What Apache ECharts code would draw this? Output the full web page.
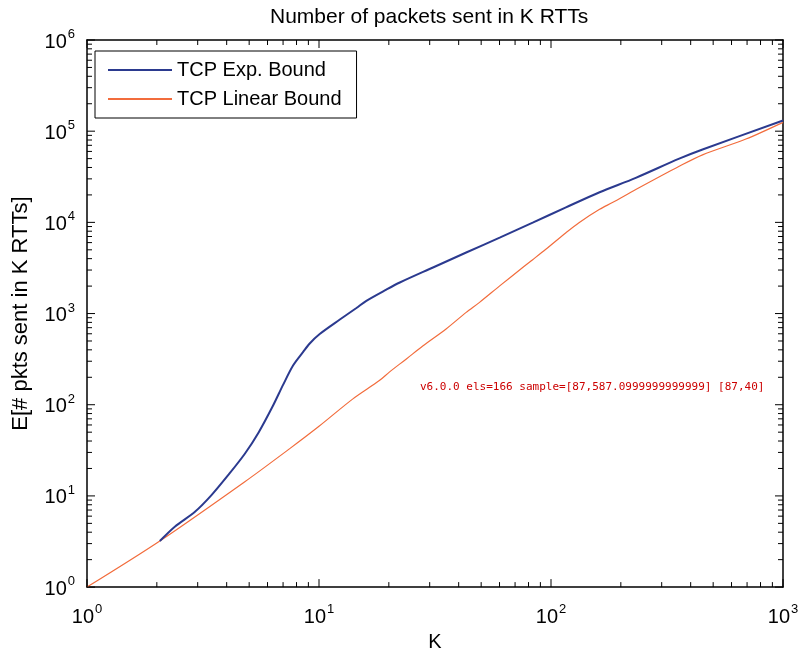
<!DOCTYPE html>
<html><head><meta charset="utf-8">
<script>window.__errs = []; window.onerror = function (m, s, l, c, e) { window.__errs.push('onerror: ' + m + ' @' + l + ':' + c); };</script>
<script src="https://cdn.jsdelivr.net/npm/echarts@6/dist/echarts.min.js"></script>
<style>html,body{margin:0;padding:0;background:#fff}#c{width:806px;height:657px}#d{position:absolute;left:420px;top:380px;width:360px;font:11px monospace;white-space:pre-wrap;color:#c00}</style>
</head><body><div id="c"></div><div id="d"></div>
<script>
const dbgOut = [];
const origErr = console.error, origWarn = console.warn;
console.error = function () { dbgOut.push('E: ' + Array.from(arguments).join(' ').slice(0, 200)); };
console.warn = function () { dbgOut.push('W: ' + Array.from(arguments).join(' ').slice(0, 200)); };
// Data
const expK = [2.06, 2.39, 2.92, 3.44, 4.06, 4.79, 5.5, 6.34, 7.0, 7.73, 8.53, 9.12, 10.07, 12.3, 14.5, 16.0, 19.5, 22.3, 31.0, 43.1, 60.1, 83.4, 116, 162, 232, 357, 450, 1000];
const expE = [3.2, 4.6, 6.7, 10.2, 16.9, 29, 50, 98, 165, 269, 377, 470, 597, 860, 1150, 1380, 1830, 2190, 3200, 4670, 6800, 9930, 14600, 21400, 30800, 50000, 63000, 131000];
const linK = [1, 2.06, 4.79, 7.48, 10, 14.0, 18.2, 20.1, 23.8, 28.0, 35.3, 43.1, 49.2, 60.1, 75.5, 83.4, 95, 116, 132, 162, 184, 232, 357, 450, 692, 1000];
const linE = [1, 3.2, 14.3, 33, 58, 116, 184, 228, 318, 440, 677, 1030, 1326, 2010, 3200, 3900, 5070, 7710, 9930, 13900, 16500, 22900, 41200, 55000, 82000, 125000];
const seriesNames = ['TCP Exp. Bound', 'TCP Linear Bound'];
const majorX = [1, 10, 100, 1000];
const minorX = [2,3,4,5,6,7,8,9,20,30,40,50,60,70,80,90,200,300,400,500,600,700,800,900];
const majorY = [1, 10, 100, 1000, 10000, 100000, 1000000];
const minorY = [2,3,4,5,6,7,8,9,20,30,40,50,60,70,80,90,200,300,400,500,600,700,800,900,
  2000,3000,4000,5000,6000,7000,8000,9000,20000,30000,40000,50000,60000,70000,80000,90000,
  200000,300000,400000,500000,600000,700000,800000,900000];

const FONT = 'Liberation Sans, Arial, sans-serif';
const X_MIN = 1, X_MAX = 1000, Y_MIN = 1, Y_MAX = 1000000;
const MAJ_LEN = 8, MIN_LEN = 5;
const pair = (ks, es) => ks.map((k, i) => [k, es[i]]);
const supFmt = v => '{b|10}{s|' + Math.round(Math.log10(v)) + '}';
const richL = {
  b: {fontSize: 20, fontFamily: FONT, color: '#000', lineHeight: 24, verticalAlign: 'bottom'},
  s: {fontSize: 13, fontFamily: FONT, color: '#000', lineHeight: 24, verticalAlign: 'top', padding: [0,0,0,1]}
};
function ax(pos, labels, margin, extra) {
  return Object.assign({
    type: 'log', position: pos,
    axisLine: {show: true, onZero: false, lineStyle: {color: '#000', width: 1.5}},
    axisTick: {show: false},
    axisLabel: {show: labels, margin: margin, formatter: supFmt, rich: richL},
    splitLine: {show: false}
  }, extra);
}
let chart, nEls = 0, sample = '';
try {
chart = echarts.init(document.getElementById('c'));
chart.setOption({
  animation: false,
  backgroundColor: '#fff',
  title: {text: 'Number of packets sent in K RTTs', left: 265, top: 2,
    textStyle: {fontFamily: FONT, fontSize: 21, fontWeight: 'normal', color: '#000'}},
  grid: {left: 87, right: 23, top: 40, bottom: 67},
  legend: {
    orient: 'vertical', left: 95, top: 51, data: seriesNames,
    borderColor: '#000', borderWidth: 1, padding: [9, 15, 9, 13], itemGap: 9,
    itemWidth: 64, itemHeight: 2, icon: 'rect', backgroundColor: '#fff',
    textStyle: {fontFamily: FONT, fontSize: 20, color: '#000'}
  },
  xAxis: [
    ax('bottom', true, 16, {min: X_MIN, max: X_MAX, name: 'K', nameLocation: 'middle', nameGap: 27,
      nameTextStyle: {fontFamily: FONT, fontSize: 20, color: '#000'}}),
    ax('top', false, 8, {min: X_MIN, max: X_MAX})
  ],
  yAxis: [
    ax('left', true, 12, {min: Y_MIN, max: Y_MAX, name: 'E[# pkts sent in K RTTs]', nameLocation: 'middle', nameGap: 55,
      nameTextStyle: {fontFamily: FONT, fontSize: 22, color: '#000'}}),
    ax('right', false, 8, {min: Y_MIN, max: Y_MAX})
  ],
  series: [
    {name: seriesNames[0], type: 'line', data: pair(expK, expE), symbol: 'none', smooth: 0.3,
      lineStyle: {color: '#2b3a8f', width: 2}, itemStyle: {color: '#2b3a8f'}, z: 3},
    {name: seriesNames[1], type: 'line', data: pair(linK, linE), symbol: 'none', smooth: 0.3,
      lineStyle: {color: '#f26c3c', width: 1.2}, itemStyle: {color: '#f26c3c'}, z: 2}
  ]
});
} catch (e) { dbgOut.push('setOption1: ' + e + ' ' + (e.stack || '').slice(0, 300)); }
try {
const px = (x, y) => chart.convertToPixel({xAxisIndex: 0, yAxisIndex: 0}, [x, y]);
const tickEls = [];
function addTick(x1, y1, x2, y2) {
  tickEls.push({type: 'line', silent: true, z: 100,
    shape: {x1: x1, y1: y1, x2: x2, y2: y2}, style: {stroke: '#000', lineWidth: 1}});
}
majorX.map(v => [v, MAJ_LEN]).concat(minorX.map(v => [v, MIN_LEN])).forEach(function (t) {
  const b = px(t[0], Y_MIN), tp = px(t[0], Y_MAX);
  if (!sample) sample = JSON.stringify(b) + ' ' + JSON.stringify(tp);
  if (b && tp) { addTick(b[0], b[1], b[0], b[1] - t[1]); addTick(tp[0], tp[1], tp[0], tp[1] + t[1]); }
});
majorY.map(v => [v, MAJ_LEN]).concat(minorY.map(v => [v, MIN_LEN])).forEach(function (t) {
  const l = px(X_MIN, t[0]), r = px(X_MAX, t[0]);
  if (l && r) { addTick(l[0], l[1], l[0] + t[1], l[1]); addTick(r[0], r[1], r[0] - t[1], r[1]); }
});
nEls = tickEls.length;
chart.setOption({graphic: {elements: tickEls}});
} catch (e) { dbgOut.push('ticks: ' + e + ' ' + (e.stack || '').slice(0, 300)); }
document.getElementById('d').textContent = 'v' + echarts.version + ' els=' + nEls + ' sample=' + sample + '\n' + window.__errs.join('\n') + '\n' + dbgOut.join('\n');
</script></body></html>
